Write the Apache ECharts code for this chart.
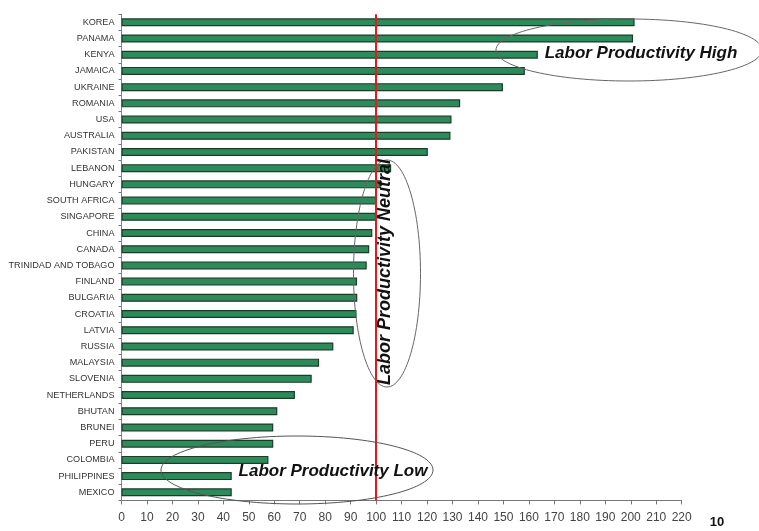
<!DOCTYPE html>
<html>
<head>
<meta charset="utf-8">
<script src="https://cdn.jsdelivr.net/npm/echarts@6/dist/echarts.min.js"></script>
<style>
  html, body { margin: 0; padding: 0; background: #fff; }
  #chart { width: 759px; height: 531px; }
</style>
</head>
<body>
<div id="chart"></div>
<script>
let chart = echarts.init(document.getElementById('chart'));

/* countries, top to bottom */
let countries = ['KOREA','PANAMA','KENYA','JAMAICA','UKRAINE','ROMANIA','USA','AUSTRALIA','PAKISTAN','LEBANON',
  'HUNGARY','SOUTH AFRICA','SINGAPORE','CHINA','CANADA','TRINIDAD AND TOBAGO','FINLAND','BULGARIA','CROATIA','LATVIA',
  'RUSSIA','MALAYSIA','SLOVENIA','NETHERLANDS','BHUTAN','BRUNEI','PERU','COLOMBIA','PHILIPPINES','MEXICO'];

/* labor productivity index */
let productivity = [201.5,200.9,163.5,158.4,149.8,133.0,129.6,129.2,120.3,105.9,
  101.8,100.2,100.0,98.5,97.3,96.3,92.5,92.6,92.3,91.2,
  83.2,77.6,74.7,68.1,61.2,59.6,59.6,57.7,43.3,43.3];

/* neutral line */
let neutral = 100;

let annoFont = 'bold italic 17px "Liberation Sans", Arial, sans-serif';

let option = {
  animation: false,
  backgroundColor: '#fff',
  grid: { left: 121.5, right: 77.3, top: 14.2, bottom: 30.6, containLabel: false },
  xAxis: {
    type: 'value',
    min: 0,
    max: 220,
    interval: 10,
    splitLine: { show: false },
    axisLine: { show: true, lineStyle: { color: '#777', width: 1 } },
    axisTick: { show: true, length: 4, lineStyle: { color: '#777' } },
    axisLabel: {
      color: '#444',
      fontSize: 12,
      fontFamily: '"Liberation Sans", Arial, sans-serif',
      margin: 11
    }
  },
  yAxis: {
    type: 'category',
    inverse: true,
    data: countries,
    axisLine: { show: true, lineStyle: { color: '#888', width: 1 } },
    axisTick: { show: true, length: 3, lineStyle: { color: '#777' } },
    axisLabel: {
      color: '#333',
      fontSize: 9.1,
      fontFamily: '"Liberation Sans", Arial, sans-serif',
      margin: 7
    }
  },
  series: [{
    type: 'bar',
    data: productivity,
    barWidth: 8,
    itemStyle: { color: '#2e8a5b', borderColor: '#173f28', borderWidth: 1.2 },
    markLine: {
      silent: true,
      symbol: 'none',
      label: { show: false },
      lineStyle: { color: '#e3191b', width: 2, type: 'solid' },
      data: [{ xAxis: neutral }],
      z: 10
    }
  }],
  graphic: [
    { type: 'ellipse', z: 20, shape: { cx: 629, cy: 50, rx: 133, ry: 31 },
      style: { fill: 'none', stroke: '#666', lineWidth: 1 } },
    { type: 'text', z: 21, x: 641, y: 53,
      style: { text: 'Labor Productivity High', font: annoFont, fill: '#111', align: 'center', verticalAlign: 'middle' } },
    { type: 'ellipse', z: 20, shape: { cx: 387, cy: 273.5, rx: 33.5, ry: 113.5 },
      style: { fill: 'none', stroke: '#666', lineWidth: 1 } },
    { type: 'text', z: 21, x: 385, y: 272, rotation: Math.PI / 2,
      style: { text: 'Labor Productivity Neutral', font: 'bold italic 18px "Liberation Sans", Arial, sans-serif', fill: '#111', align: 'center', verticalAlign: 'middle' } },
    { type: 'ellipse', z: 20, shape: { cx: 297, cy: 470, rx: 136, ry: 34 },
      style: { fill: 'none', stroke: '#555', lineWidth: 1 } },
    { type: 'text', z: 21, x: 333, y: 471,
      style: { text: 'Labor Productivity Low', font: annoFont, fill: '#111', align: 'center', verticalAlign: 'middle' } },
    { type: 'text', z: 21, x: 717, y: 522,
      style: { text: '10', font: 'bold 13px "Liberation Sans", Arial, sans-serif', fill: '#111', align: 'center', verticalAlign: 'middle' } }
  ]
};

chart.setOption(option);
</script>
</body>
</html>
